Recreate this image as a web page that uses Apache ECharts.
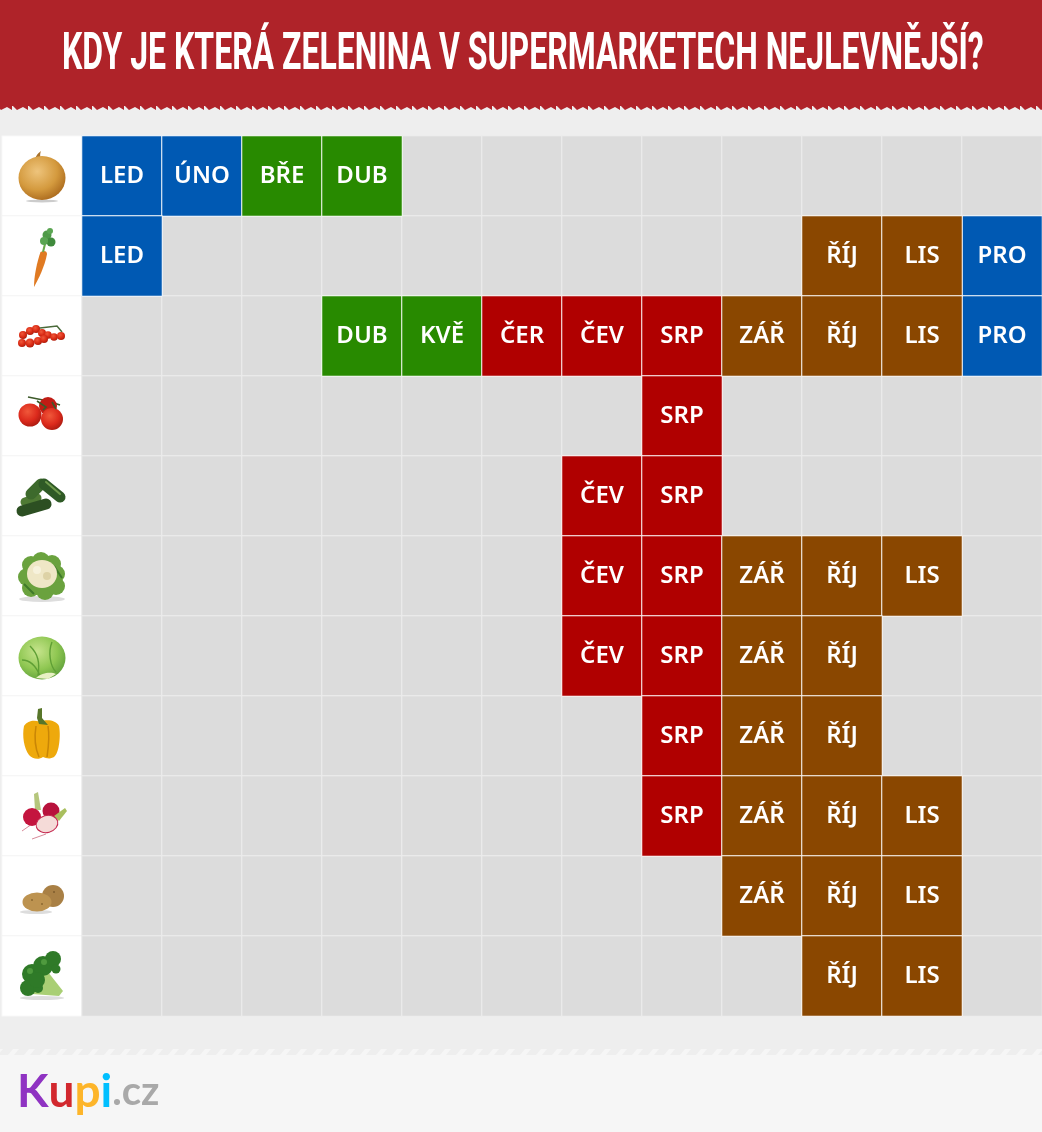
<!DOCTYPE html>
<html><head><meta charset="utf-8">
<style>html,body{margin:0;padding:0;background:#eeeeee}#c{width:1042px;height:1132px}</style>
<script src="https://cdn.jsdelivr.net/npm/echarts@6/dist/echarts.min.js"></script>
</head><body><div id="c"></div>
<script>
const titleText = 'KDY JE KTERÁ ZELENINA V SUPERMARKETECH NEJLEVNĚJŠÍ?';
const months = ['LED','ÚNO','BŘE','DUB','KVĚ','ČER','ČEV','SRP','ZÁŘ','ŘÍJ','LIS','PRO'];
const vegetables = ['cibule','mrkev','rajčata cherry','rajčata','okurky','květák','salát','paprika','ředkvičky','brambory','brokolice'];
const cibule = ['LED','ÚNO','BŘE','DUB'];
const mrkev = ['LED','ŘÍJ','LIS','PRO'];
const cherry = ['DUB','KVĚ','ČER','ČEV','SRP','ZÁŘ','ŘÍJ','LIS','PRO'];
const rajcata = ['SRP'];
const okurky = ['ČEV','SRP'];
const kvetak = ['ČEV','SRP','ZÁŘ','ŘÍJ','LIS'];
const salat = ['ČEV','SRP','ZÁŘ','ŘÍJ'];
const paprika = ['SRP','ZÁŘ','ŘÍJ'];
const redkvicky = ['SRP','ZÁŘ','ŘÍJ','LIS'];
const brambory = ['ZÁŘ','ŘÍJ','LIS'];
const brokolice = ['ŘÍJ','LIS'];
const cheapest = [cibule,mrkev,cherry,rajcata,okurky,kvetak,salat,paprika,redkvicky,brambory,brokolice];
const zima = ['PRO','LED','ÚNO'], jaro = ['BŘE','DUB','KVĚ'], leto = ['ČER','ČEV','SRP'], podzim = ['ZÁŘ','ŘÍJ','LIS'];

const svg = b => 'image://data:image/svg+xml;charset=utf-8,' + encodeURIComponent('<svg xmlns="http://www.w3.org/2000/svg" width="192" height="192" viewBox="0 0 64 64">' + b + '</svg>');
const rg = (id,a,b,c) => `<defs><radialGradient id="${id}" cx="40%" cy="35%" r="70%"><stop offset="0" stop-color="${a}"/><stop offset=".6" stop-color="${b}"/><stop offset="1" stop-color="${c}"/></radialGradient></defs>`;
const tomato = (x,y,r) => `<circle cx="${x}" cy="${y}" r="${r}" fill="url(#t)"/>`;
const icons = [
 rg('o','#eec47c','#d49a3e','#a9681c')+'<ellipse cx="32" cy="57" rx="16" ry="1.5" fill="#ccc"/><path d="M24 19 C25 13 27 10 31 7 C29 12 31 15 33 18Z" fill="#a8722c"/><ellipse cx="32" cy="34" rx="23.5" ry="22" fill="url(#o)"/>',
 '<path d="M30.5 28 C34 26 37 27 37 30 C35 42 28 56 24 63 C24 52 27 38 30.5 28Z" fill="#e07a22"/><path d="M33 28 L35 20" stroke="#6aa84a" stroke-width="2"/><circle cx="37" cy="11" r="4.5" fill="#4f9a48"/><circle cx="41" cy="18" r="4.5" fill="#3f8a3c"/><circle cx="34" cy="17" r="4" fill="#5aa552"/><circle cx="40" cy="7" r="3" fill="#5aa552"/>',
 rg('t','#f0583a','#d92a14','#a81a0a')+'<path d="M12 30 L30 24 L47 22 L52 28" stroke="#4a6a3a" stroke-width="1.5" fill="none"/>'+[[13,31,4],[20,27,4],[26,25,4],[32,29,4],[38,31,3.8],[44,33,3.8],[51,32,4],[12,39,4],[20,39,4.5],[28,37,4],[34,35,4]].map(a=>tomato(...a)).join(''),
 rg('t','#f0583a','#dc2a1c','#a81a10')+'<path d="M18 13 L38 17 L50 21" stroke="#3d5a2a" stroke-width="1.6" fill="none"/><circle cx="38" cy="22" r="9" fill="#c01c14"/>'+tomato(20,31,11.5)+tomato(42,35,11)+'<path d="M27 17 L36 23 L33 26 M42 18 L46 25" stroke="#3d5a2a" stroke-width="1.6" fill="none"/>',
 '<g stroke-linecap="round" fill="none"><path d="M15 38 L27 34" stroke="#4f7a34" stroke-width="9"/><path d="M12 47 L36 40" stroke="#2c4f22" stroke-width="11"/><path d="M21 30 L31 20" stroke="#3d6a2c" stroke-width="11"/><path d="M34 20 L50 33" stroke="#2f5a26" stroke-width="11"/></g><path d="M36 18 L50 30" stroke="#6f9a4c" stroke-width="2" stroke-linecap="round"/>',
 '<ellipse cx="32" cy="55" rx="23" ry="3" fill="#ddd"/>'+[[31,17,9],[21,21,9],[17,33,9],[21,44,9],[35,47,9],[46,42,9],[46,30,9],[42,20,9],[32,32,14]].map(p=>`<circle cx="${p[0]}" cy="${p[1]}" r="${p[2]}" fill="#6aa23e"/>`).join('')+'<path d="M14 40 L24 50 M44 22 L52 34" stroke="#3f7a2a" stroke-width="2"/><ellipse cx="32" cy="30" rx="15" ry="14" fill="#efe7c6"/><circle cx="27" cy="26" r="4" fill="#f7f2dc"/><circle cx="37" cy="32" r="4" fill="#ddd2a6"/>',
 rg('s','#c6e48c','#8fc752','#5fa03a')+'<ellipse cx="32" cy="34" rx="23.5" ry="21.5" fill="url(#s)"/><path d="M20 22 C28 30 30 38 28 52 M42 18 C38 28 40 42 46 48 M12 36 C20 36 26 42 30 52" stroke="#5f9f35" stroke-width="1.4" fill="none"/><path d="M26 54 C32 48 42 48 46 50 L38 55Z" fill="#e8f0c4"/>',
 '<path d="M14 22 C18 16 25 16 30 18 C36 15 46 16 49 22 C51 32 49 48 45 52 C41 56 36 54 33 53 C29 56 22 55 19 51 C14 44 12 32 14 22Z" fill="#eea90c"/><path d="M26 22 C24 34 26 46 29 53 M38 22 C40 34 38 46 37 53" stroke="#c98606" stroke-width="1.5" fill="none"/><path d="M28 5 L32 4 L32 14 L38 21 L29 20 L27 14Z" fill="#58762a"/>',
 '<path d="M22 40 L12 47 M36 50 L22 55" stroke="#d88a9a" stroke-width="1"/><path d="M24 10 L28 8 L31 26 L25 26Z" fill="#b5c67c"/><circle cx="41" cy="27" r="8.5" fill="#b8123c"/><circle cx="22" cy="33" r="9" fill="#c4153f"/><path d="M44 32 L55 24 L57 27 L49 37Z" fill="#a9bf5e"/><ellipse cx="37" cy="40" rx="11" ry="8.5" transform="rotate(-15 37 40)" fill="#f5dbd8" stroke="#c4284f" stroke-width="1"/>',
 '<ellipse cx="26" cy="48" rx="16" ry="2" fill="#ddd"/><ellipse cx="43" cy="32" rx="11" ry="11" fill="#a98045"/><ellipse cx="27" cy="38" rx="14.5" ry="9.5" fill="#bd9350"/><circle cx="22" cy="36" r="1" fill="#8c6830"/><circle cx="32" cy="40" r="1" fill="#8c6830"/><circle cx="44" cy="28" r="1" fill="#7f5c2c"/>',
 '<ellipse cx="32" cy="54" rx="22" ry="2" fill="#ddd"/><path d="M28 30 L38 28 L53 47 L49 52 L22 50Z" fill="#a9cf74"/>'+[[22,30,10],[33,22,10],[43,15,8],[18,44,8],[28,44,5],[46,25,4.5],[27,36,8]].map(a=>`<circle cx="${a[0]}" cy="${a[1]}" r="${a[2]}" fill="#2f7a28"/>`).join('')+'<circle cx="34" cy="18" r="3" fill="#4f9a3e"/><circle cx="20" cy="27" r="3" fill="#4f9a3e"/>'
];

const cols = ['ikona'].concat(months);
const seasonCell = list => {
  const out = [];
  cheapest.forEach((row,r) => row.forEach(m => { if (list.includes(m)) out.push([cols.indexOf(m), r, 1]); }));
  return out;
};
const emptyCells = [], iconCells = [], iconPoints = [];
vegetables.forEach((v,r) => {
  iconCells.push([0,r,0]);
  iconPoints.push({value:[0,r],name:v,symbol:svg(icons[r])});
  months.forEach((m,c) => emptyCells.push([c+1,r,0]));
});
const monthSeries = (name,color,list) => ({
  name, type:'heatmap', data:seasonCell(list), silent:true, z:3,
  itemStyle:{color,borderColor:'#ffffff',borderWidth:1},
  label:{show:true,color:'#ffffff',fontFamily:'"Noto Sans"',fontWeight:600,fontSize:24,
    formatter:p=>months[p.value[0]-1]},
  emphasis:{disabled:true}
});
const deco = [];
deco.push({type:'rect',z:-5,shape:{x:0,y:0,width:1042,height:106},style:{fill:'#af2329'}});
for (let x=-4;x<1042;x+=16) deco.push({type:'polygon',z:-5,shape:{points:[[x,105],[x+16,105],[x+16,110],[x+11,107],[x+5,110]]},style:{fill:'#af2329'}});
deco.push({type:'rect',z:-5,shape:{x:0,y:1055,width:1042,height:77},style:{fill:'#f6f6f6'}});
for (let x=-8;x<1042;x+=16) deco.push({type:'polygon',z:-5,shape:{points:[[x,1055],[x+5,1049],[x+11,1049],[x+6,1055]]},style:{fill:'#f6f6f6'}});
deco.push({type:'text',z:10,x:62,y:56,scaleX:0.615,scaleY:1,style:{text:titleText,fill:'#ffffff',
  font:'bold 52px Roboto',verticalAlign:'middle'}});
deco.push({type:'text',z:10,x:17,y:1092,style:{
  text:'{k|K}{u|u}{p|p}{i|i}{c|.cz}',verticalAlign:'middle',
  rich:{k:{fill:'#8f33c2',font:'bold 46px Lato'},u:{fill:'#d2282e',font:'bold 46px Lato'},p:{fill:'#fdb52a',font:'bold 46px Lato'},i:{fill:'#00bfff',font:'bold 46px Lato'},c:{fill:'#a9a9a9',font:'bold 40px Lato'}}}});

const chart = echarts.init(document.getElementById('c'),null,{renderer:'canvas'});
chart.setOption({
  animation:false, backgroundColor:'#eeeeee',
  graphic:{elements:deco},
  grid:{left:2,top:136,width:1040,height:880,containLabel:false},
  xAxis:{type:'category',data:cols,show:false,boundaryGap:true},
  yAxis:{type:'category',data:vegetables,show:false,inverse:true,boundaryGap:true},
  tooltip:{show:false},
  series:[
   {name:'ikony',type:'heatmap',data:iconCells,silent:true,itemStyle:{color:'#ffffff',borderColor:'#f3f3f3',borderWidth:1},emphasis:{disabled:true}},
   {name:'mimo',type:'heatmap',data:emptyCells,silent:true,itemStyle:{color:'#dcdcdc',borderColor:'#eeeeee',borderWidth:1},emphasis:{disabled:true}},
   monthSeries('zima','#0059b3',zima),
   monthSeries('jaro','#288a00',jaro),
   monthSeries('léto','#b00000',leto),
   monthSeries('podzim','#8a4700',podzim),
   {name:'zelenina',type:'scatter',data:iconPoints,symbolSize:64,silent:true,z:5,itemStyle:{opacity:1},emphasis:{disabled:true}}
  ]
});
</script></body></html>
